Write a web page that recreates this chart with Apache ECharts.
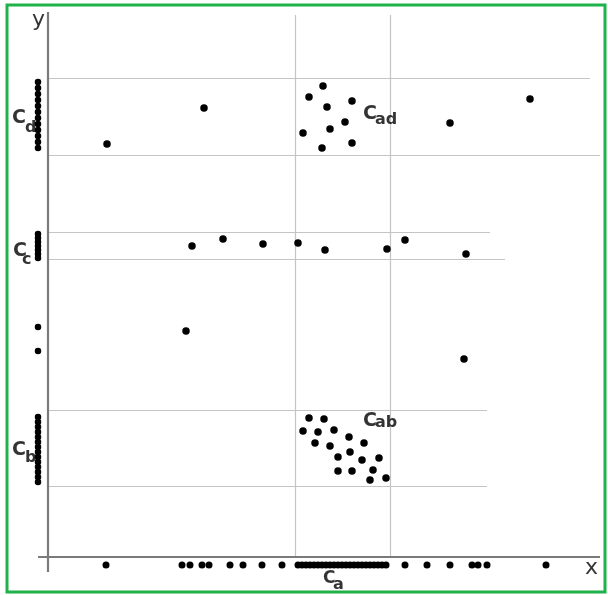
<!DOCTYPE html>
<html><head><meta charset="utf-8">
<script src="https://cdn.jsdelivr.net/npm/echarts@6/dist/echarts.min.js"></script>
<style>html,body{margin:0;padding:0;background:#fff}#c{width:608px;height:595px}</style>
</head><body><div id="c"></div>
<script>
// Coordinates in chart units (origin = axis crossing)
const colDx = -10;
const colD = [475, 469, 463, 457, 451, 445, 439, 433, 427, 421, 415, 409];
const colC = [323, 319, 315, 311, 307, 303, 299];
const colB = [140, 135, 130, 125, 120, 115, 110, 105, 100, 95, 90, 85, 80, 75];
const colOther = [230, 206];
const cloudAd = [[275,471],[261,460],[279,450],[304,456],[297,435],[282,428],[255,424],[274,409],[304,414]];
const upperPts = [[59,413],[156,449],[482,458],[402,434]];
const rowC = [[144,311],[175,318],[215,313],[250,314],[277,307],[339,308],[357,317],[418,303]];
const midPts = [[138,226],[416,198]];
const cloudAb = [[261,139],[276,138],[255,126],[270,125],[286,127],[267,114],[282,111],[301,120],[316,114],
  [290,100],[302,105],[314,97],[331,99],[290,86],[304,86],[325,87],[322,77],[338,79]];
const axisDotY = -8;
const axisDots = [58,134,142,154,161,182,195,214,234,250,254,258,262,266,270,274,278,282,286,290,294,298,302,306,310,314,318,322,326,330,334,338,357,379,402,424,430,439,498];
// guide lines: [x1,y1,x2,y2]
const gridLinesH = [[0,479,542,479],[0,402,552,402],[0,325,442,325],[0,298,457,298],[0,147,439,147],[0,71,439,71]];
const gridLinesV = [[247,0,247,542],[342,0,342,542]];
const axisLines = [[0,-15,0,545],[-10,0,552,0]];
// labels: [x, y, text, kind]
const labels = [
  [-36,439,'C','big'],[-23,429,'d','sub'],
  [-35,306,'C','big'],[-26,297,'c','sub'],
  [-36,107,'C','big'],[-23,99,'b','sub'],
  [315,443,'C','big'],[327,437,'ad','sub'],
  [315,136,'C','big'],[327,134,'ab','sub'],
  [275,-22,'C','small'],[285,-28,'a','sub'],
  [-16,537,'y','axis'],[537,-11,'x','axis']
];
const sizes = {big: 19, small: 17, sub: 16, axis: 22};

const colPts = [];
colD.forEach(y => colPts.push([colDx, y]));
colC.forEach(y => colPts.push([colDx, y]));
colB.forEach(y => colPts.push([colDx, y]));
colOther.forEach(y => colPts.push([colDx, y]));
const axisPts = axisDots.map(x => [x, axisDotY]);
const freePts = [].concat(cloudAd, upperPts, rowC, midPts, cloudAb);

const toLines = arr => arr.map(a => ({coords: [[a[0], a[1]], [a[2], a[3]]]}));
const dot = {color: '#000', opacity: 1};

const chart = echarts.init(document.getElementById('c'));
chart.setOption({
  animation: false,
  grid: {left: 0, right: 0, top: 0, bottom: 0},
  xAxis: {type: 'value', min: -48, max: 560, show: false},
  yAxis: {type: 'value', min: -38, max: 557, show: false},
  graphic: [{type: 'rect', shape: {x: 7, y: 5, width: 598, height: 587},
    style: {fill: 'none', stroke: '#1fb24a', lineWidth: 3}, z: 100}],
  series: [
    {type: 'lines', coordinateSystem: 'cartesian2d', data: toLines(gridLinesH.concat(gridLinesV)),
      lineStyle: {color: '#c4c4c4', width: 1.2, opacity: 1}, silent: true, z: 1},
    {type: 'lines', coordinateSystem: 'cartesian2d', data: toLines(axisLines),
      lineStyle: {color: '#7a7a7a', width: 2.2, opacity: 1}, silent: true, z: 2},
    {type: 'scatter', data: colPts, symbolSize: 6.5, itemStyle: dot, clip: false, z: 5},
    {type: 'scatter', data: axisPts, symbolSize: 7, itemStyle: dot, clip: false, z: 5},
    {type: 'scatter', data: freePts, symbolSize: 7.5, itemStyle: dot, clip: false, z: 5},
    {type: 'scatter', data: labels.map(l => ({value: [l[0], l[1]], name: l[2],
        label: {fontSize: sizes[l[3]], fontWeight: l[3] === 'axis' ? 'normal' : 'bold'}})),
      symbolSize: 0, clip: false, z: 10, silent: true,
      label: {show: true, position: 'inside', formatter: p => p.name,
        color: '#000', fontFamily: 'DejaVu Sans', align: 'left', verticalAlign: 'middle'}}
  ]
});
</script></body></html>
